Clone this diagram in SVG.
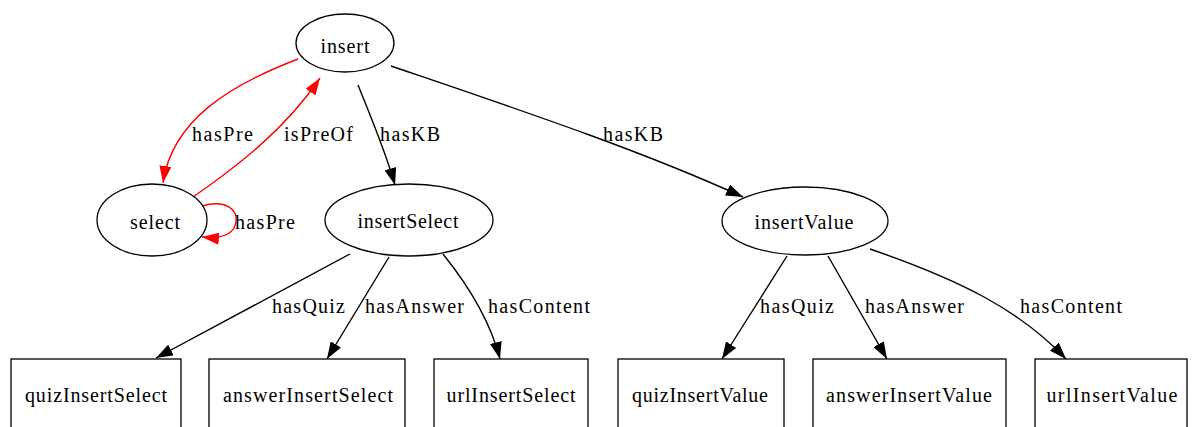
<svg xmlns="http://www.w3.org/2000/svg" width="1194" height="427" viewBox="0 0 1194 427">
<style>
text{font-family:"Liberation Serif","Times New Roman",serif;font-size:20px;fill:#000}
.n{text-anchor:middle}
.node{fill:#fff;stroke:#000;stroke-width:1.3}
.e{fill:none;stroke:#000;stroke-width:1.4;marker-end:url(#ab)}
.r{fill:none;stroke:#f00;stroke-width:1.4;marker-end:url(#ar)}
</style>
<defs>
<marker id="ab" viewBox="0 0 17 12" refX="17" refY="6" markerWidth="17" markerHeight="12" markerUnits="userSpaceOnUse" orient="auto"><path d="M0,0 L17,6 L0,12 z" fill="#000"/></marker>
<marker id="ar" viewBox="0 0 17 12" refX="17" refY="6" markerWidth="17" markerHeight="12" markerUnits="userSpaceOnUse" orient="auto"><path d="M0,0 L17,6 L0,12 z" fill="#f00"/></marker>
</defs>
<rect width="1194" height="427" fill="#fff"/>
<g id="connectors">
<path class="r" d="M298,59 C230,85 172,120 163,183"/>
<text x="192" y="141" textLength="61">hasPre</text>
<path class="r" d="M193,197 C235,168 285,130 320,78"/>
<text x="284" y="141" textLength="69">isPreOf</text>
<path class="r" d="M202,206 C226,199 238,210 236,222 C234,234 222,239 202,237"/>
<text x="235" y="229" textLength="60">hasPre</text>
<path class="e" d="M358,85 C370,115 385,150 395,185"/>
<text x="380" y="141" textLength="60">hasKB</text>
<path class="e" d="M391,66 C520,110 640,150 743,197"/>
<text x="603" y="141" textLength="60">hasKB</text>
<path class="e" d="M350,254 L156,358"/>
<text x="272" y="313" textLength="73">hasQuiz</text>
<path class="e" d="M389,257 L327,359"/>
<text x="365" y="313" textLength="99">hasAnswer</text>
<path class="e" d="M443,254 C468,285 490,320 500,359"/>
<text x="488" y="313" textLength="102">hasContent</text>
<path class="e" d="M787,256 L722,359"/>
<text x="760" y="313" textLength="74">hasQuiz</text>
<path class="e" d="M828,256 L887,359"/>
<text x="865" y="313" textLength="99">hasAnswer</text>
<path class="e" d="M870,249 C960,280 1020,310 1066,359"/>
<text x="1020" y="313" textLength="102">hasContent</text>
</g>
<g id="insert"><ellipse class="node" cx="345" cy="43" rx="49" ry="29"/><text class="n" x="345" y="53" textLength="49">insert</text></g>
<g id="select"><ellipse class="node" cx="152" cy="220" rx="55" ry="36"/><text class="n" x="155" y="229" textLength="50">select</text></g>
<g id="insertSelect"><ellipse class="node" cx="409" cy="220" rx="84" ry="36"/><text class="n" x="408" y="228" textLength="101">insertSelect</text></g>
<g id="insertValue"><ellipse class="node" cx="805" cy="221" rx="83" ry="34"/><text class="n" x="804" y="229" textLength="99">insertValue</text></g>
<g id="quizInsertSelect"><rect class="node" x="11" y="359" width="170" height="72"/><text class="n" x="96" y="402" textLength="142">quizInsertSelect</text></g>
<g id="answerInsertSelect"><rect class="node" x="209" y="359" width="196" height="72"/><text class="n" x="308" y="402" textLength="170">answerInsertSelect</text></g>
<g id="urlInsertSelect"><rect class="node" x="434" y="359" width="154" height="72"/><text class="n" x="511" y="402" textLength="129">urlInsertSelect</text></g>
<g id="quizInsertValue"><rect class="node" x="618" y="359" width="166" height="72"/><text class="n" x="700" y="402" textLength="136">quizInsertValue</text></g>
<g id="answerInsertValue"><rect class="node" x="813" y="359" width="193" height="72"/><text class="n" x="909" y="402" textLength="166">answerInsertValue</text></g>
<g id="urlInsertValue"><rect class="node" x="1035" y="359" width="152" height="72"/><text class="n" x="1112" y="402" textLength="131">urlInsertValue</text></g>
</svg>
